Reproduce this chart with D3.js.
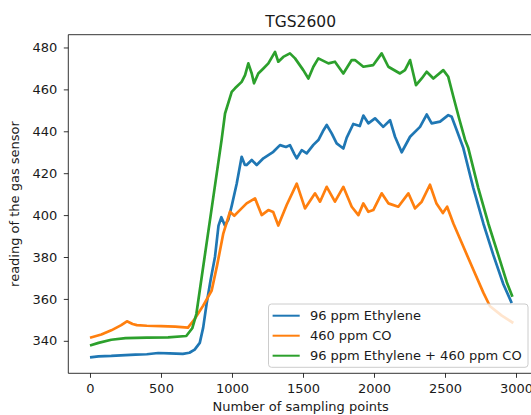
<!DOCTYPE html>
<html>
<head>
<meta charset="utf-8">
<script src="https://d3js.org/d3.v7.min.js"></script>
<style>
  body { margin: 0; background: #fff; }
  svg text { font-family: "DejaVu Sans", sans-serif; fill: #1a1a1a; }
  .tick line { stroke: #000; stroke-width: 0.8; }
  .spine { stroke: #000; stroke-width: 0.8; fill: none; }
</style>
</head>
<body>
<script>
// sampling index -> sensor reading
var ethyleneIdx = [0, 60, 150, 250, 320, 400, 480, 560, 654, 700, 737, 773, 797, 821, 849, 880, 905, 925, 950, 975, 1000, 1033, 1068, 1090, 1103, 1139, 1174, 1221, 1291, 1338, 1380, 1408, 1440, 1456, 1491, 1526, 1573, 1610, 1640, 1667, 1702, 1737, 1784, 1808, 1854, 1900, 1925, 1960, 2007, 2065, 2113, 2148, 2195, 2254, 2324, 2371, 2406, 2465, 2523, 2547, 2582, 2629, 2699, 2770, 2840, 2911, 2970];
var ethyleneVal = [332.1, 332.6, 332.8, 333.2, 333.4, 333.6, 334.2, 334.0, 333.8, 334.3, 335.8, 339.0, 346.3, 357.6, 368.9, 380, 395, 399, 395, 398, 405, 415, 427.8, 424, 423.9, 426.3, 423.9, 427.1, 430.2, 433.4, 432.5, 433.4, 429, 427.1, 431, 429.5, 433.5, 436, 440, 443, 439, 434.2, 431.8, 437, 443.5, 442.5, 447.5, 443.8, 446.2, 442.1, 445.3, 437.4, 430, 437.4, 442.1, 448, 443.8, 444.6, 447.7, 446.9, 440.6, 432, 413, 396, 381, 367, 358];

var coIdx = [0, 80, 150, 220, 260, 300, 330, 400, 500, 600, 690, 737, 797, 857, 895, 939, 986, 1016, 1050, 1103, 1162, 1209, 1256, 1290, 1326, 1385, 1456, 1514, 1585, 1620, 1667, 1725, 1784, 1843, 1890, 1925, 1960, 1995, 2054, 2101, 2171, 2242, 2289, 2336, 2394, 2440, 2485, 2515, 2559, 2629, 2699, 2770, 2817, 2900, 2981];
var coVal = [341.5, 343, 345, 347.5, 349.3, 348, 347.5, 347.2, 347, 346.8, 346.3, 350.4, 356.8, 364, 376, 391.3, 401.6, 399.7, 402, 405.6, 408, 400, 402.4, 401.5, 395, 404.8, 415, 403.2, 410.4, 406.4, 413.5, 406.4, 413.5, 404, 400, 405.6, 401.6, 402.4, 410.4, 405.6, 404, 410.4, 403.2, 406.4, 414.5, 405.5, 401, 404, 396, 385, 374, 363, 356.5, 352, 348.5];

var mixIdx = [0, 60, 150, 250, 400, 550, 678, 720, 749, 790, 850, 927, 951, 998, 1021, 1068, 1092, 1115, 1139, 1155, 1185, 1221, 1256, 1303, 1326, 1361, 1408, 1444, 1502, 1538, 1573, 1608, 1679, 1725, 1784, 1843, 1866, 1925, 1995, 2054, 2101, 2183, 2218, 2254, 2296, 2336, 2371, 2418, 2488, 2523, 2559, 2600, 2641, 2664, 2734, 2805, 2875, 2935, 2975];
var mixVal = [337.8, 339, 340.5, 341.3, 341.5, 341.6, 342.3, 346, 352.8, 372, 400, 436, 448.5, 458.8, 460.5, 463.6, 466.8, 472.4, 467.6, 462.9, 467.6, 470, 472.4, 477.9, 473.2, 475.5, 477.2, 474.8, 469.2, 465.2, 470.8, 474.8, 472.4, 473.2, 467.6, 474, 474, 470.8, 471.6, 477.2, 470.8, 467.6, 469.2, 474, 462, 465.2, 468.4, 465.2, 469.2, 466, 456.5, 446, 436, 432, 413, 396, 381, 368, 361];

var seriesNames = ["96 ppm Ethylene", "460 ppm CO", "96 ppm Ethylene + 460 ppm CO"];
var seriesColors = ["#1f77b4", "#ff7f0e", "#2ca02c"];
var xTicks = [0, 500, 1000, 1500, 2000, 2500, 3000];
var yTicks = [340, 360, 380, 400, 420, 440, 460, 480];

var W = 531, H = 415;
var axLeft = 68.3, axRight = 533, axTop = 34.7, axBottom = 373.3;
var fontSize = 13;

var svg = d3.select("body").append("svg")
  .attr("width", W)
  .attr("height", H);

var x = d3.scaleLinear().domain([-152.8, 3119.7]).range([axLeft, axRight]);
var y = d3.scaleLinear().domain([324.5, 486.1]).range([axBottom, axTop]);

svg.append("clipPath").attr("id", "plotclip")
  .append("rect")
  .attr("x", axLeft).attr("y", axTop)
  .attr("width", axRight - axLeft).attr("height", axBottom - axTop);

// lines
var series = [
  {idx: ethyleneIdx, val: ethyleneVal},
  {idx: coIdx, val: coVal},
  {idx: mixIdx, val: mixVal}
];
var line = d3.line()
  .x(function(d) { return x(d[0]); })
  .y(function(d) { return y(d[1]); });

svg.append("g").attr("clip-path", "url(#plotclip)")
  .selectAll("path")
  .data(series)
  .enter()
  .append("path")
  .attr("d", function(s) { return line(d3.zip(s.idx, s.val)); })
  .attr("fill", "none")
  .attr("stroke", function(s, i) { return seriesColors[i]; })
  .attr("stroke-width", 2.7)
  .attr("stroke-linejoin", "round");

// axes
var xAxis = d3.axisBottom(x).tickValues(xTicks).tickFormat(d3.format("d")).tickSize(4.5).tickPadding(5.5);
var yAxis = d3.axisLeft(y).tickValues(yTicks).tickFormat(d3.format("d")).tickSize(4.5).tickPadding(6.5);

var gx = svg.append("g")
  .attr("transform", "translate(0," + axBottom + ")")
  .call(xAxis);
var gy = svg.append("g")
  .attr("transform", "translate(" + axLeft + ",0)")
  .call(yAxis);
[gx, gy].forEach(function(g) {
  g.select(".domain").remove();
  g.selectAll("text").attr("font-size", fontSize).attr("fill", "#1a1a1a");
});

// spines (the right one is off the picture)
svg.append("path").attr("class", "spine")
  .attr("d", "M" + axRight + "," + axTop + "H" + axLeft + "V" + axBottom + "H" + axRight);

// title and labels
svg.append("text")
  .attr("x", (axLeft + axRight) / 2)
  .attr("y", 27)
  .attr("text-anchor", "middle")
  .attr("font-size", 15.5)
  .text("TGS2600");

svg.append("text")
  .attr("x", (axLeft + axRight) / 2)
  .attr("y", 410.5)
  .attr("text-anchor", "middle")
  .attr("font-size", fontSize)
  .text("Number of sampling points");

svg.append("text")
  .attr("transform", "translate(19," + ((axTop + axBottom) / 2) + ")rotate(-90)")
  .attr("text-anchor", "middle")
  .attr("font-size", fontSize)
  .text("reading of the gas sensor");

// legend
var lg = svg.append("g").attr("class", "legend");
lg.append("rect")
  .attr("x", 268.5).attr("y", 304)
  .attr("width", 259.5).attr("height", 63.3)
  .attr("rx", 3).attr("ry", 3)
  .attr("fill", "#fff").attr("fill-opacity", 0.8)
  .attr("stroke", "#cccccc").attr("stroke-width", 1);

var item = lg.selectAll("g.item")
  .data(seriesNames)
  .enter()
  .append("g")
  .attr("class", "item")
  .attr("transform", function(d, i) { return "translate(0," + (315.7 + 20 * i) + ")"; });
item.append("line")
  .attr("x1", 272.6).attr("x2", 299.7)
  .attr("stroke", function(d, i) { return seriesColors[i]; })
  .attr("stroke-width", 2);
item.append("text")
  .attr("x", 309.9)
  .attr("dy", "0.35em")
  .attr("font-size", fontSize)
  .text(function(d) { return d; });
</script>
</body>
</html>
